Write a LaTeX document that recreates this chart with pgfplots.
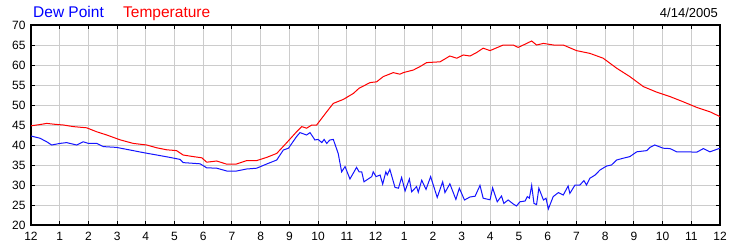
\documentclass[border=0pt]{standalone}
\usepackage{pgfplots}
\pgfplotsset{compat=1.18}
\usepackage{fontspec}
\setmainfont{Liberation Sans}
\definecolor{dpblue}{RGB}{20,20,255}
\definecolor{tpred}{RGB}{255,0,0}
\definecolor{gridgray}{RGB}{204,204,204}
\begin{document}
\begin{tikzpicture}
\path[use as bounding box, fill=white] (0,0) rectangle (750pt,250pt);
\pgfplotsset{
  common/.style={
    at={(31pt,25pt)}, anchor=south west, scale only axis,
    width=689pt, height=200pt,
    xmin=0, xmax=24, ymin=20, ymax=70,
    ytick={20,25,...,70},
    /pgf/number format/assume math mode=true,
    tick label style={font=\fontsize{12}{14}\selectfont, text=black},
    tick align=inside, major tick length=4pt,
    tick style={black, line width=1pt},
  }
}
\begin{axis}[common,
  xtick={0,...,24},
  xticklabels={12,1,2,3,4,5,6,7,8,9,10,11,12,1,2,3,4,5,6,7,8,9,10,11,12},
  grid=major, grid style={gridgray, line width=1pt},
  axis line style={black, line width=1.5pt},
  yticklabel pos=left,
  xticklabel style={yshift=-4pt},
  yticklabel style={xshift=-2pt},
]
\addplot[tpred, line width=1pt] coordinates {
(0,44.8)(0.3,45.1)(0.55,45.4)(0.8,45.2)(1.13,45.0)(1.47,44.6)(1.94,44.3)(2.29,43.3)(2.64,42.5)(3.1,41.3)(3.56,40.4)(4.03,40.0)(4.38,39.3)(4.73,38.8)(5.07,38.6)(5.3,37.5)(5.65,37.1)(5.95,36.8)(6.12,35.7)(6.47,36.0)(6.82,35.2)(7.16,35.25)(7.51,36.1)(7.86,36.1)(8.21,36.9)(8.56,37.9)(8.91,40.6)(9.25,43.3)(9.43,44.6)(9.6,44.2)(9.78,45.0)(9.95,45.0)(10.3,48.3)(10.53,50.4)(10.88,51.4)(11.23,52.9)(11.43,54.2)(11.81,55.6)(12.04,55.8)(12.27,57.1)(12.62,58.1)(12.85,57.7)(12.97,58.1)(13.32,58.75)(13.55,59.6)(13.78,60.6)(14.25,60.8)(14.59,62.25)(14.83,61.7)(15.06,62.5)(15.29,62.25)(15.52,63.1)(15.75,64.2)(15.99,63.6)(16.45,65.0)(16.8,65.0)(16.97,64.4)(17.15,65.0)(17.44,66.0)(17.61,65.0)(17.85,65.4)(18.2,65.0)(18.54,65.0)(19.0,63.6)(19.47,62.9)(19.93,61.7)(20.4,59.2)(20.86,57.1)(21.33,54.6)(21.8,53.2)(22.26,52.1)(22.72,50.8)(23.19,49.4)(23.65,48.3)(24,47.1)
};
\addplot[dpblue, line width=1pt] coordinates {
(0,42.25)(0.31,41.7)(0.55,40.8)(0.72,40.0)(1.01,40.4)(1.24,40.6)(1.59,40.0)(1.82,40.8)(2.0,40.4)(2.29,40.4)(2.52,39.6)(2.98,39.4)(3.45,38.75)(3.91,38.1)(4.38,37.5)(4.84,36.9)(5.19,36.4)(5.3,35.6)(5.89,35.3)(6.12,34.3)(6.47,34.2)(6.82,33.5)(7.16,33.5)(7.51,34.0)(7.86,34.2)(8.21,35.25)(8.56,36.25)(8.79,38.75)(8.97,39.2)(9.25,42.1)(9.37,43.1)(9.6,42.5)(9.72,43.1)(9.89,41.25)(10.0,41.4)(10.13,40.6)(10.21,41.4)(10.3,40.4)(10.41,41.25)(10.53,41.4)(10.7,37.9)(10.82,33.3)(10.94,34.6)(11.11,31.5)(11.34,34.4)(11.43,33.3)(11.52,33.3)(11.6,30.8)(11.87,32.1)(11.92,33.3)(12.02,32.1)(12.16,32.5)(12.25,30.2)(12.36,33.3)(12.41,32.5)(12.5,33.9)(12.68,29.4)(12.8,29.2)(12.91,31.9)(13.03,28.5)(13.18,31.5)(13.26,28.3)(13.43,29.6)(13.49,28.2)(13.61,31.2)(13.76,28.9)(13.92,32.1)(14.15,26.9)(14.34,30.8)(14.42,28.1)(14.59,30.3)(14.8,26.4)(14.92,29.2)(15.1,26.25)(15.29,27.0)(15.47,27.2)(15.64,29.9)(15.75,26.7)(15.99,26.3)(16.08,29.3)(16.24,25.8)(16.39,27.25)(16.47,25.4)(16.62,26.25)(16.8,25.25)(16.91,24.75)(17.03,25.8)(17.21,26.0)(17.29,27.1)(17.36,26.7)(17.44,29.9)(17.52,25.4)(17.61,25.1)(17.69,29.2)(17.85,26.25)(17.94,26.7)(18.02,24.0)(18.19,27.1)(18.37,28.1)(18.54,27.5)(18.71,29.75)(18.77,27.9)(18.95,30.0)(19.12,30.0)(19.26,31.1)(19.35,30.0)(19.47,31.7)(19.65,32.5)(19.82,33.75)(20.05,34.75)(20.22,35.0)(20.4,36.25)(20.63,36.7)(20.86,37.1)(21.1,38.3)(21.45,38.6)(21.56,39.4)(21.73,40.0)(22.02,39.2)(22.26,39.1)(22.49,38.3)(22.84,38.3)(23.19,38.2)(23.42,39.1)(23.65,38.3)(24,39.2)
};
\end{axis}
\begin{axis}[common,
  axis lines=none, xtick=\empty,
  yticklabel pos=right,
  major tick length=0pt,
  yticklabel style={xshift=3pt},
]
\addplot[draw=none] coordinates {(0,20)};
\end{axis}
\node[anchor=base west, inner sep=0pt, text=blue, font=\fontsize{15.5}{17}\selectfont] at (33pt,232.7pt) {Dew Point};
\node[anchor=base west, inner sep=0pt, text=red, font=\fontsize{15.5}{17}\selectfont] at (123pt,232.7pt) {Temperature};
\node[anchor=base east, inner sep=0pt, text=black, font=\fontsize{13}{15}\selectfont] at (718pt,232.7pt) {4/14/2005};
\end{tikzpicture}
\end{document}
